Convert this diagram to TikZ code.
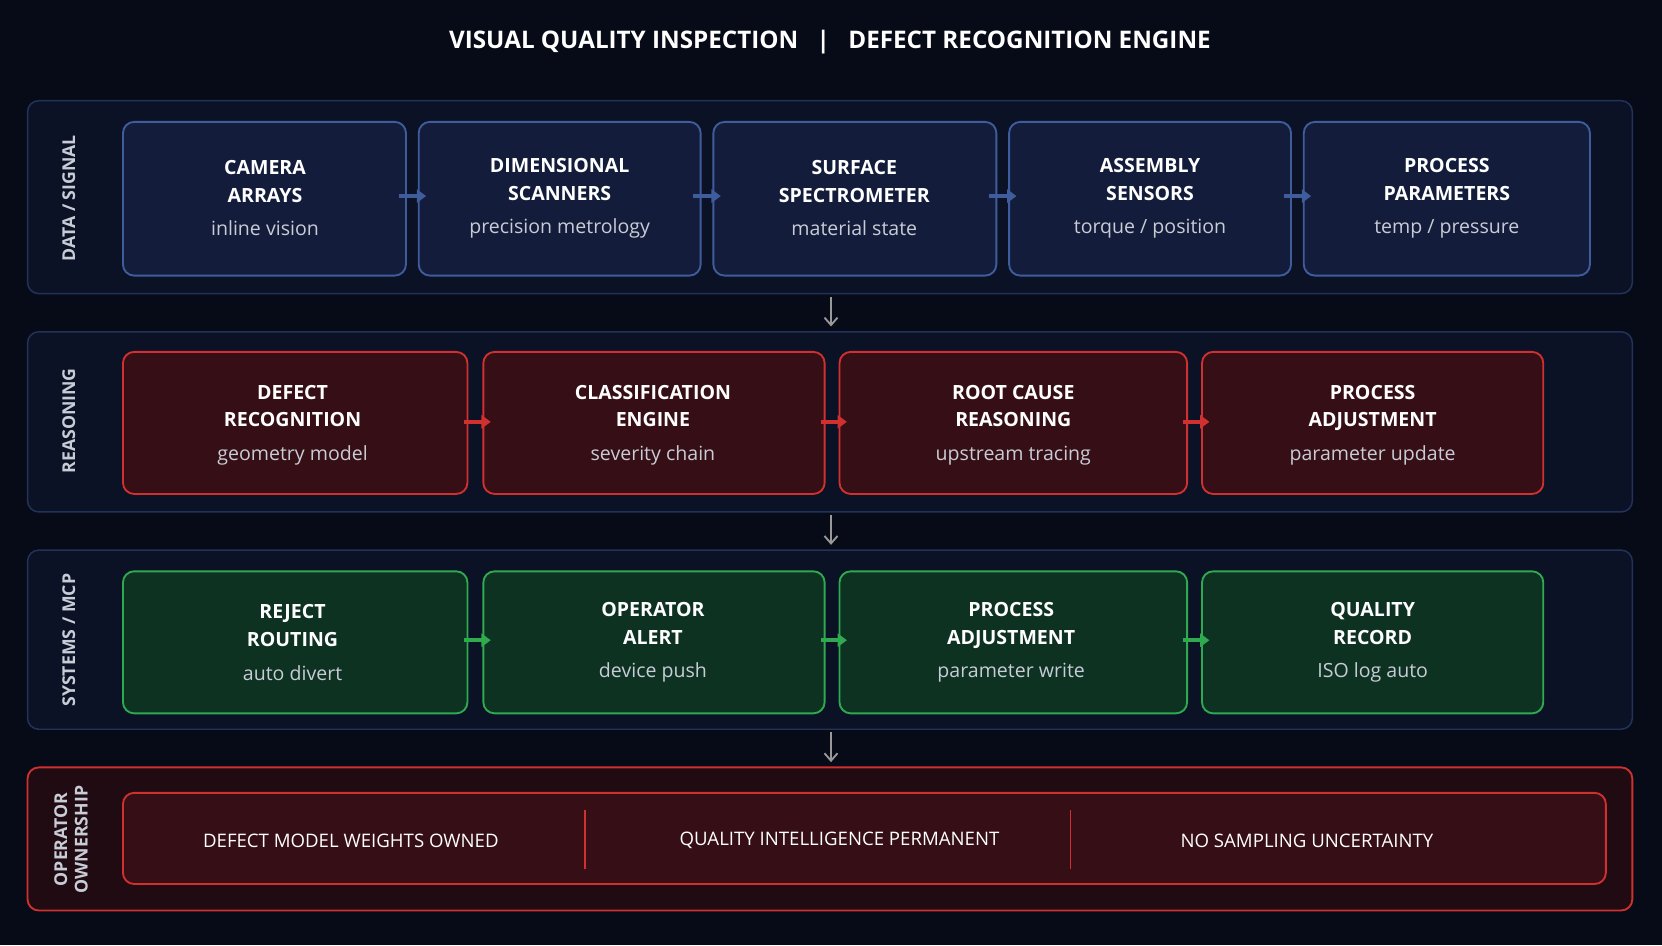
\documentclass[tikz,border=0pt]{standalone}
\usepackage{fontspec}
\setmainfont{Open Sans}
\usetikzlibrary{arrows.meta}
\definecolor{bgc}{HTML}{070B18}
\definecolor{bandfill}{HTML}{0B1226}
\definecolor{bandline}{HTML}{22325A}
\definecolor{bluefill}{HTML}{131D3B}
\definecolor{blueline}{HTML}{3F5C9C}
\definecolor{redfill}{HTML}{360E15}
\definecolor{redline}{HTML}{D0302E}
\definecolor{greenfill}{HTML}{0D3222}
\definecolor{greenline}{HTML}{2FAA4E}
\definecolor{ownfill}{HTML}{210B12}
\definecolor{subtext}{HTML}{C8CCD6}
\tikzset{
  band/.style={draw=bandline, fill=bandfill, rounded corners=6pt, line width=0.8pt},
  lanelabel/.style={rotate=90, text=subtext, font=\bfseries\fontsize{9.5}{11}\selectfont, align=center},
  stepbox/.style={rounded corners=6pt, line width=1pt},
  boxlabel/.style={text=white, align=center, font=\fontsize{10.5}{15}\selectfont\bfseries},
  flow/.style={-{Triangle[length=5pt,width=7pt]}, line width=2.2pt},
  down/.style={-{Straight Barb[length=4pt,width=7pt]}, line width=1pt, draw=gray!80},
}
\begin{document}
\begin{tikzpicture}[x=0.02cm, y=-0.02cm]
\fill[bgc] (0,0) rectangle (1568,892);

\node[text=white, font=\bfseries\fontsize{13}{15}\selectfont] (title) at (783,40)
  {VISUAL QUALITY INSPECTION \enspace | \enspace DEFECT RECOGNITION ENGINE};

% bands
\draw[band] (26,95) rectangle (1540,277);
\draw[band] (26,313) rectangle (1540,483);
\draw[band] (26,519) rectangle (1540,688);
\draw[draw=redline, fill=ownfill, rounded corners=6pt, line width=1pt] (26,724) rectangle (1540,859);

\node[lanelabel] (l1) at (65,187) {DATA / SIGNAL};
\node[lanelabel] (l2) at (65,397) {REASONING};
\node[lanelabel] (l3) at (65,604) {SYSTEMS / MCP};
\node[lanelabel] (l4) at (67,792) {OPERATOR\\OWNERSHIP};

% data row
\foreach \i/\xa/\xb in {1/116/383, 2/395/661, 3/673/940, 4/952/1218, 5/1230/1500} {
  \draw[stepbox, draw=blueline, fill=bluefill] (\xa,115) rectangle (\xb,260);
  \coordinate (dL\i) at (\xa,185);
  \coordinate (dR\i) at (\xb,185);
}
\node[boxlabel] (d1) at (250,187) {CAMERA\\ARRAYS\\[3pt]\mdseries\color{subtext}inline vision};
\node[boxlabel] (d2) at (528,187) {DIMENSIONAL\\SCANNERS\\[3pt]\mdseries\color{subtext}precision metrology};
\node[boxlabel] (d3) at (806,187) {SURFACE\\SPECTROMETER\\[3pt]\mdseries\color{subtext}material state};
\node[boxlabel] (d4) at (1085,187) {ASSEMBLY\\SENSORS\\[3pt]\mdseries\color{subtext}torque / position};
\node[boxlabel] (d5) at (1365,187) {PROCESS\\PARAMETERS\\[3pt]\mdseries\color{subtext}temp / pressure};
\foreach \a/\b in {1/2,2/3,3/4,4/5}
  \draw[flow, blueline] ([xshift=-4pt]dR\a) -- ([xshift=4pt]dL\b);

% reasoning row
\foreach \i/\xa/\xb in {1/116/441, 2/456/778, 3/792/1120, 4/1134/1456} {
  \draw[stepbox, draw=redline, fill=redfill] (\xa,332) rectangle (\xb,466);
  \coordinate (rL\i) at (\xa,398);
  \coordinate (rR\i) at (\xb,398);
}
\node[boxlabel] (r1) at (276,401) {DEFECT\\RECOGNITION\\[3pt]\mdseries\color{subtext}geometry model};
\node[boxlabel] (r2) at (616,401) {CLASSIFICATION\\ENGINE\\[3pt]\mdseries\color{subtext}severity chain};
\node[boxlabel] (r3) at (956,401) {ROOT CAUSE\\REASONING\\[3pt]\mdseries\color{subtext}upstream tracing};
\node[boxlabel] (r4) at (1295,401) {PROCESS\\ADJUSTMENT\\[3pt]\mdseries\color{subtext}parameter update};
\foreach \a/\b in {1/2,2/3,3/4}
  \draw[flow, redline] ([xshift=-2pt]rR\a) -- ([xshift=4pt]rL\b);

% systems row
\foreach \i/\xa/\xb in {1/116/441, 2/456/778, 3/792/1120, 4/1134/1456} {
  \draw[stepbox, draw=greenline, fill=greenfill] (\xa,539) rectangle (\xb,673);
  \coordinate (sL\i) at (\xa,604);
  \coordinate (sR\i) at (\xb,604);
}
\node[boxlabel] (s1) at (276,606) {REJECT\\ROUTING\\[3pt]\mdseries\color{subtext}auto divert};
\node[boxlabel] (s2) at (616,606) {OPERATOR\\ALERT\\[3pt]\mdseries\color{subtext}device push};
\node[boxlabel] (s3) at (954,606) {PROCESS\\ADJUSTMENT\\[3pt]\mdseries\color{subtext}parameter write};
\node[boxlabel] (s4) at (1295,606) {QUALITY\\RECORD\\[3pt]\mdseries\color{subtext}ISO log auto};
\foreach \a/\b in {1/2,2/3,3/4}
  \draw[flow, greenline] ([xshift=-2pt]sR\a) -- ([xshift=4pt]sL\b);

% ownership row
\draw[stepbox, draw=redline, fill=redfill] (116,748) rectangle (1515,834);
\draw[redline, line width=1pt] (552,764) -- (552,820);
\draw[redline, line width=1pt] (1010,764) -- (1010,820);
\node[text=white, font=\fontsize{10}{12}\selectfont] (o1) at (331,793) {DEFECT MODEL WEIGHTS OWNED};
\node[text=white, font=\fontsize{10}{12}\selectfont] (o2) at (792,793) {QUALITY INTELLIGENCE PERMANENT};
\node[text=white, font=\fontsize{10}{12}\selectfont] (o3) at (1233,793) {NO SAMPLING UNCERTAINTY};

% between bands
\coordinate (a1) at (784,280); \coordinate (b1) at (784,308);
\coordinate (a2) at (784,486); \coordinate (b2) at (784,514);
\coordinate (a3) at (784,691); \coordinate (b3) at (784,719);
\foreach \k in {1,2,3}
  \draw[down] (a\k) -- (b\k);
\end{tikzpicture}
\end{document}
